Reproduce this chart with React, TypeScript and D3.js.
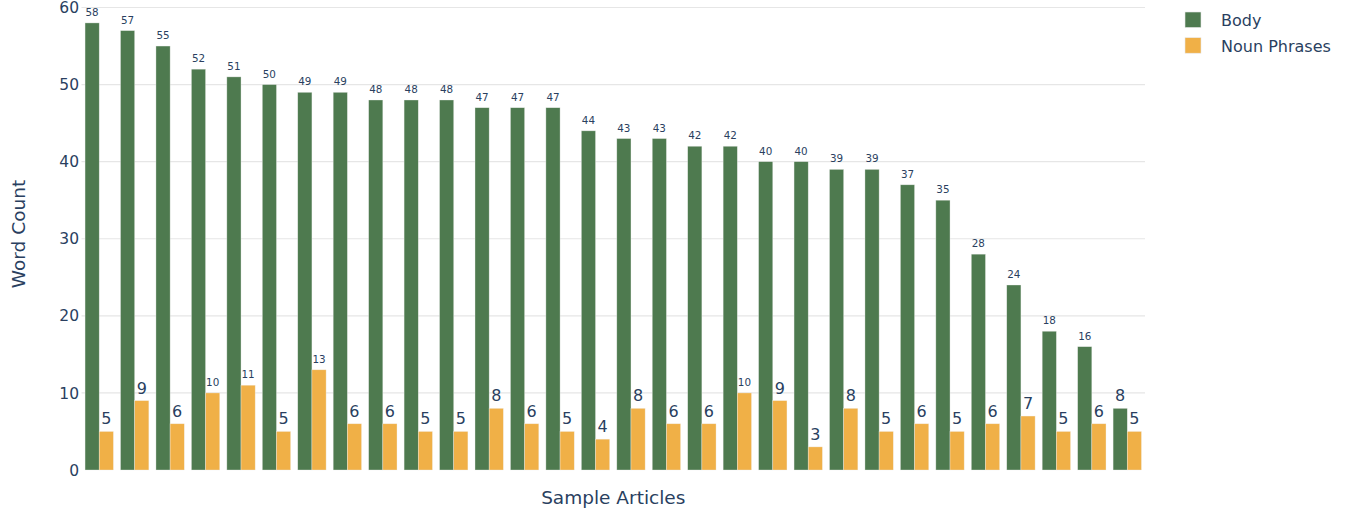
import React from "react";
import * as d3 from "d3";

// data
const articles = d3.range(1, 31).map((i) => `Article ${i}`);
const bodyCounts = [58, 57, 55, 52, 51, 50, 49, 49, 48, 48, 48, 47, 47, 47, 44, 43, 43, 42, 42, 40, 40, 39, 39, 37, 35, 28, 24, 18, 16, 8];
const nounPhraseCounts = [5, 9, 6, 10, 11, 5, 13, 6, 6, 5, 5, 8, 6, 5, 4, 8, 6, 6, 10, 9, 3, 8, 5, 6, 5, 6, 7, 5, 6, 5];
const seriesNames = ["Body", "Noun Phrases"];
const seriesColors = ["#4e7a4f", "#f0b047"];
const yTicks = [0, 10, 20, 30, 40, 50, 60];

const W = 1364, H = 515;
const margin = { top: 7.5, right: 219, bottom: 45, left: 81.5 };
const font = "'DejaVu Sans', Verdana, sans-serif";
const textColor = "#2a3f5f";

export default function App() {
  const plotW = W - margin.left - margin.right;
  const plotH = H - margin.top - margin.bottom;

  const x = d3.scaleBand().domain(articles).range([0, plotW]).paddingInner(0.2).paddingOuter(0.1);
  const xSub = d3.scaleBand().domain(seriesNames).range([0, x.bandwidth()]).padding(0);
  const y = d3.scaleLinear().domain([0, 60]).range([plotH, 0]);

  const series = [bodyCounts, nounPhraseCounts];
  const bw = xSub.bandwidth();

  // plotly shrinks outside text so it fits the bar width
  const labelSize = (v: number) => Math.min(16, (bw - 1) / (0.636 * String(v).length));

  return (
    <svg width={W} height={H} style={{ position: "absolute", left: 0, top: 0, background: "#fff", fontFamily: font }}>
      <g transform={`translate(${margin.left},${margin.top})`}>
        {yTicks.map((t) => (
          <g key={t} transform={`translate(0,${y(t)})`}>
            {t > 0 && <line x1={0} x2={plotW} stroke="#e6e6e6" strokeWidth={1.2} />}
            <text x={-2.5} dy="0.36em" textAnchor="end" fontSize={15.5} fill={textColor}>{t}</text>
          </g>
        ))}
        {series.map((vals, si) => (
          <g key={si}>
            {vals.map((v, i) => {
              const bx = (x(articles[i]) ?? 0) + (xSub(seriesNames[si]) ?? 0);
              return (
                <g key={i}>
                  <rect x={bx} y={y(v)} width={bw} height={plotH - y(v)} fill={seriesColors[si]} stroke="#f2f2f2" strokeOpacity={0.6} strokeWidth={0.6} />
                  <text x={bx + bw / 2} y={y(v) - 7} textAnchor="middle" fontSize={labelSize(v)} fill={textColor}>{v}</text>
                </g>
              );
            })}
          </g>
        ))}
      </g>
      <text x={margin.left + plotW / 2} y={504} textAnchor="middle" fontSize={18.5} fill={textColor}>Sample Articles</text>
      <text transform={`translate(25,234) rotate(-90)`} textAnchor="middle" fontSize={18.5} fill={textColor}>Word Count</text>
      <g transform="translate(1185,12)">
        {seriesNames.map((n, i) => (
          <g key={n} transform={`translate(0,${i * 25.7})`}>
            <rect width={16} height={15.5} fill={seriesColors[i]} stroke="#e8e8e8" strokeWidth={0.6} />
            <text x={36} y={14} fontSize={16} fill={textColor}>{n}</text>
          </g>
        ))}
      </g>
    </svg>
  );
}
